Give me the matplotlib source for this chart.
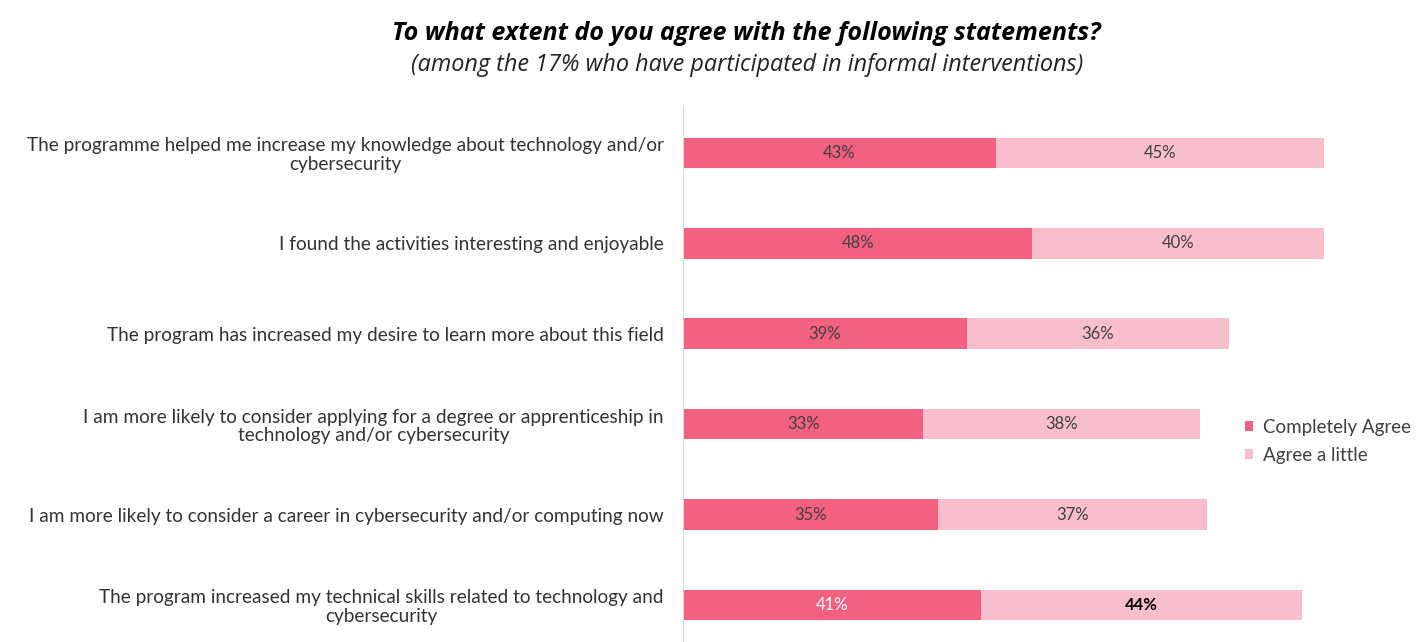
import matplotlib.pyplot as plt
import numpy as np

plt.rcParams['font.family'] = ['Lato', 'DejaVu Sans']

statements = [
    "The programme helped me increase my knowledge about technology and/or\ncybersecurity",
    "I found the activities interesting and enjoyable",
    "The program has increased my desire to learn more about this field",
    "I am more likely to consider applying for a degree or apprenticeship in\ntechnology and/or cybersecurity",
    "I am more likely to consider a career in cybersecurity and/or computing now",
    "The program increased my technical skills related to technology and\ncybersecurity",
]
completely_agree = [43, 48, 39, 33, 35, 41]
agree_little = [45, 40, 36, 38, 37, 44]

dark_pink = '#F4607F'
light_pink = '#F8BECC'

fig = plt.figure(figsize=(14.17, 6.42), dpi=100)
# axes box in pixels: left 683, right 1411, top 105, bottom 642
ax = fig.add_axes([683 / 1417, 0, 728 / 1417, 537 / 642])

y = np.arange(len(statements))
h = 0.34
b1 = ax.barh(y, completely_agree, height=h, color=dark_pink, label='Completely Agree')
b2 = ax.barh(y, agree_little, left=completely_agree, height=h, color=light_pink, label='Agree a little')

for i in range(len(statements)):
    c1 = 'white' if i == 5 else '#404040'
    c2 = 'black' if i == 5 else '#404040'
    w2 = 'bold' if i == 5 else 'normal'
    ax.text(completely_agree[i] / 2, y[i], f"{completely_agree[i]}%", ha='center', va='center',
            fontsize=12, color=c1)
    ax.text(completely_agree[i] + agree_little[i] / 2, y[i], f"{agree_little[i]}%", ha='center',
            va='center', fontsize=12, color=c2, fontweight=w2)

ax.set_xlim(0, 100)
ax.set_ylim(5.41, -0.53)
ax.set_yticks(y)
ax.set_yticklabels(statements, fontsize=13.7, color='#333333', multialignment='center',
                   linespacing=1.1)
ax.tick_params(axis='y', length=0, pad=14)
ax.set_xticks([])
for s in ['top', 'right', 'bottom']:
    ax.spines[s].set_visible(False)
ax.spines['left'].set_color('#d9d9d9')

fig.text(0.527, 1 - 33 / 642, "To what extent do you agree with the following statements?",
         ha='center', va='center', fontsize=18.1, fontweight='bold', style='italic', color='black',
         family=['Open Sans', 'DejaVu Sans'])
fig.text(0.527, 1 - 65 / 642, "(among the 17% who have participated in informal interventions)",
         ha='center', va='center', fontsize=16.8, style='italic', color='#222222',
         family=['Open Sans', 'DejaVu Sans'])

fig.legend(handles=[b1, b2], loc='upper left', bbox_to_anchor=(1228 / 1417, 1 - 402 / 642),
           frameon=False, fontsize=13.5, handlelength=0.45, handleheight=0.45, handletextpad=0.5,
           labelspacing=0.6, labelcolor='#404040')

fig.savefig('out.png', dpi=100)
